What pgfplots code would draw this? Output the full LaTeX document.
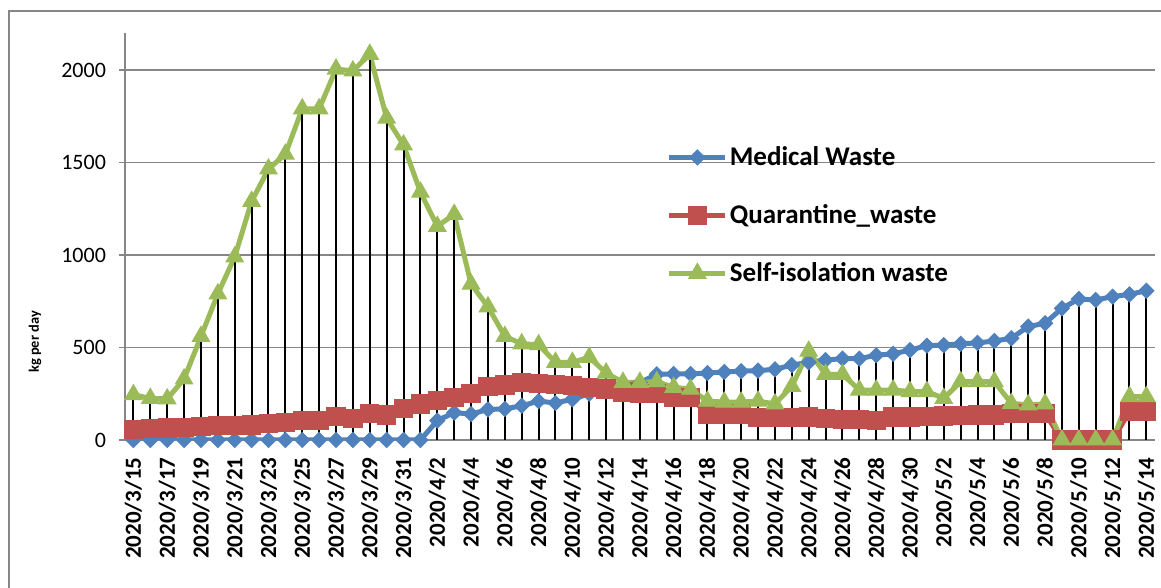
\documentclass[border=0pt]{standalone}
\usepackage{fontspec}
\setmainfont{Carlito}
\usepackage{pgfplots}
\usepackage{pgfplotstable}
\pgfplotsset{compat=1.18}
\definecolor{medblue}{HTML}{4F81BD}
\definecolor{qred}{HTML}{C0504D}
\definecolor{sgreen}{HTML}{9BBB59}
\definecolor{gridgray}{HTML}{868686}
\pgfplotstableread{
i med qua self
0 0 58 245
1 0 62 225
2 0 65 222
3 0 68 330
4 0 72 560
5 0 77 790
6 0 78 990
7 0 80 1290
8 0 88 1465
9 0 95 1545
10 0 104 1790
11 0 104 1790
12 0 126 2005
13 0 117 1995
14 0 142 2085
15 0 135 1740
16 0 171 1595
17 0 194 1340
18 105 212 1155
19 148 230 1220
20 140 250 843
21 165 288 720
22 168 297 560
23 185 310 520
24 210 306 515
25 200 300 420
26 220 295 420
27 250 285 447
28 270 275 362
29 290 260 312
30 310 252 312
31 355 250 315
32 357 230 285
33 357 230 275
34 362 140 210
35 368 140 205
36 372 140 205
37 375 120 210
38 382 120 195
39 405 122 290
40 420 125 480
41 432 115 355
42 440 112 355
43 440 112 270
44 458 105 270
45 466 125 270
46 486 125 262
47 510 128 262
48 513 130 225
49 520 133 315
50 525 135 315
51 535 135 315
52 550 144 198
53 613 144 190
54 631 144 195
55 712 0 0
56 762 0 0
57 757 0 0
58 775 0 0
59 787 153 234
60 807 153 234
}\data
\begin{document}
\begin{tikzpicture}
\path[use as bounding box] (0,0) rectangle (580.5pt,294pt);
\draw[gridgray, line width=0.6pt] (4.5pt,-5pt) rectangle (600pt,288.5pt);
\node[rotate=90, font=\bfseries\fontsize{7.2}{8}\selectfont] at (17.5pt,123pt) {kg per day};
\begin{axis}[
  at={(62.5pt,74pt)}, anchor=south west,
  scale only axis, width=514.9pt, height=203.5pt,
  xmin=-0.5, xmax=60.5, ymin=0, ymax=2200,
  ytick={0,500,...,2000},
  xtick={0,2,...,60},
  xticklabels={2020/3/15,2020/3/17,2020/3/19,2020/3/21,2020/3/23,2020/3/25,2020/3/27,2020/3/29,2020/3/31,2020/4/2,2020/4/4,2020/4/6,2020/4/8,2020/4/10,2020/4/12,2020/4/14,2020/4/16,2020/4/18,2020/4/20,2020/4/22,2020/4/24,2020/4/26,2020/4/28,2020/4/30,2020/5/2,2020/5/4,2020/5/6,2020/5/8,2020/5/10,2020/5/12,2020/5/14},
  x tick label style={rotate=90, anchor=east, font=\bfseries\fontsize{11.5}{13}\selectfont, inner sep=0pt, xshift=-5.5pt},
  y tick label style={font=\fontsize{11}{13}\selectfont, xshift=-3pt},
  /pgf/number format/assume math mode=true,
  /pgf/number format/1000 sep={},
  ymajorgrids, grid style={gridgray, line width=0.7pt},
  axis x line*=bottom, axis y line*=left,
  axis line style={gridgray, line width=0.7pt},
  x tick style={draw=none},
  y tick style={gridgray, line width=0.7pt},
  tick align=outside, major tick length=3pt,
  legend style={at={(0.520,0.737)}, anchor=north west, draw=none, fill=none,
    font=\bfseries\fontsize{13.5}{15}\selectfont, row sep=16pt,
    nodes={inner sep=1pt}},
  legend cell align=left,
  legend image code/.code={\draw[mark repeat=2,mark phase=2,#1] plot coordinates {(0pt,0pt) (14pt,0pt) (28pt,0pt)};},
]
\addplot[medblue, line width=2.5pt, mark=square*, mark size=2.65pt, mark options={solid, rotate=45, fill=medblue, draw=medblue, line width=0.5pt}] table[x=i, y=med] {\data};
\addlegendentry{Medical Waste}
\addplot[qred, line width=2.5pt, mark=square*, mark size=4.6pt, mark options={solid, fill=qred, draw=qred, line width=0.5pt}] table[x=i, y=qua] {\data};
\addlegendentry{Quarantine\_waste}
\addplot[sgreen, line width=2.5pt, mark=triangle*, mark size=5pt, mark options={solid, fill=sgreen, draw=sgreen, line width=0.5pt}] table[x=i, y=self] {\data};
\addlegendentry{Self-isolation waste}
\addplot[ycomb, black, line width=1pt, no marks, forget plot] table[x=i, y expr={max(\thisrow{med},\thisrow{qua},\thisrow{self})}] {\data};
\end{axis}
\end{tikzpicture}
\end{document}
